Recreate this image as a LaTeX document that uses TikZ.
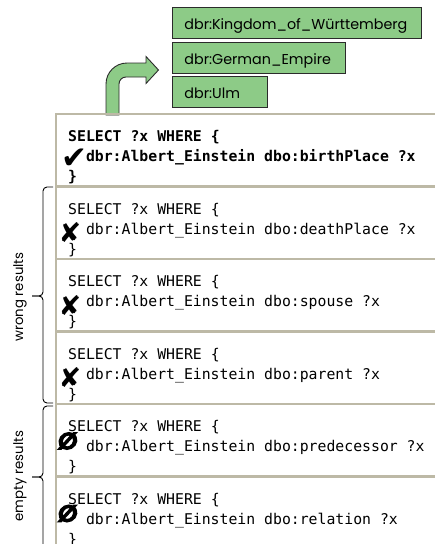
\documentclass[tikz,border=0pt]{standalone}
\usepackage{fontspec}
\setmainfont{Poppins}
\newfontfamily\qmono{DejaVu Sans Mono}
\newfontfamily\qsym{DejaVu Sans}
\newfontfamily\qsymbold[FakeBold=9,FakeSlant=0.12]{DejaVu Sans Bold}
\definecolor{gfill}{HTML}{8DCB87}
\definecolor{frm}{HTML}{BDB9A6}
\definecolor{gline}{HTML}{2B2B2B}
\tikzset{
  gbox/.style={draw=gline, line width=0.9pt, fill=gfill, anchor=north west, inner xsep=12pt, inner ysep=0pt,
    minimum height=31pt, text height=13.8pt, text depth=0pt, align=left,
    font=\fontsize{14.3}{16}\selectfont},
  qtext/.style={anchor=base west, inner sep=0pt, font=\qmono\fontsize{14.8}{18}\selectfont},
  qbold/.style={qtext, font=\qmono\bfseries\fontsize{14.8}{18}\selectfont},
  frameline/.style={draw=frm, line width=2.6pt},
  brc/.style={draw=black, line width=0.9pt, rounded corners=4pt},
  lbl/.style={rotate=90, inner sep=0pt, font=\fontsize{13.3}{15}\selectfont},
  mk/.style={inner sep=0pt, font=\qsym\fontsize{27}{29}\selectfont},
  mkcheck/.style={inner sep=0pt, font=\qsym\fontsize{31}{33}\selectfont},
  mkempty/.style={inner sep=0pt, font=\qsymbold\fontsize{22}{24}\selectfont},
  arr/.style={draw=gline, line width=0.9pt, fill=gfill}
}
\begin{document}
\begin{tikzpicture}[x=1pt,y=-1pt]
\useasboundingbox (0,0) rectangle (435,544);

% result boxes
\node[gbox, minimum width=249pt, text width=225pt] (kw) at (172,7) {dbr:Kingdom\_of\_Württemberg};
\node[gbox, minimum width=173pt, text width=149pt] (ge) at (172,41.5) {dbr:German\_Empire};
\node[gbox, minimum width=95pt, text width=71pt] (ulm) at (172,76) {dbr:Ulm};

% bent arrow
\draw[arr] (106,115) [rounded corners=21pt] -- (106,63) [sharp corners] -- (146,63) -- (146,56.5) -- (158.5,70) -- (146,83.5) -- (146,77)
  [rounded corners=7pt] -- (119,77) [sharp corners] -- (119,115) -- cycle;

% frame and separators
\draw[frameline] (56,546) -- (56,114) -- (437,114);
\foreach \t in {186.5,259,331.5,404,476.5} {\draw[frameline] (56,\t) -- (437,\t);}

% queries
\node[qbold] (q1a) at (68,141.7) {SELECT ?x WHERE \{};
\node[qbold] (q1b) at (85.8,161.7) {dbr:Albert\_Einstein dbo:birthPlace ?x};
\node[qbold] (q1c) at (68,181.7) {\}};

\node[qtext] (q2a) at (68,214.2) {SELECT ?x WHERE \{};
\node[qtext] (q2b) at (85.8,234.2) {dbr:Albert\_Einstein dbo:deathPlace ?x};
\node[qtext] (q2c) at (68,254.2) {\}};

\node[qtext] (q3a) at (68,286.7) {SELECT ?x WHERE \{};
\node[qtext] (q3b) at (85.8,306.7) {dbr:Albert\_Einstein dbo:spouse ?x};
\node[qtext] (q3c) at (68,326.7) {\}};

\node[qtext] (q4a) at (68,359.2) {SELECT ?x WHERE \{};
\node[qtext] (q4b) at (85.8,379.2) {dbr:Albert\_Einstein dbo:parent ?x};
\node[qtext] (q4c) at (68,399.2) {\}};

\node[qtext] (q5a) at (68,431.7) {SELECT ?x WHERE \{};
\node[qtext] (q5b) at (85.8,451.7) {dbr:Albert\_Einstein dbo:predecessor ?x};
\node[qtext] (q5c) at (68,471.7) {\}};

\node[qtext] (q6a) at (68,504.2) {SELECT ?x WHERE \{};
\node[qtext] (q6b) at (85.8,524.2) {dbr:Albert\_Einstein dbo:relation ?x};
\node[qtext] (q6c) at (68,544.2) {\}};

% marks
\node[mkcheck] (m1) at (74,159) {✔};
\node[mk] (m2) at (70,233) {✘};
\node[mk] (m3) at (70,305.5) {✘};
\node[mk] (m4) at (70,378) {✘};
\node[mkempty] (m5) at (67,441) {∅};
\node[mkempty] (m6) at (67,513.5) {∅};

% braces
\draw[brc] (53,187) -- (43,187) -- (43,296) -- (32,296);
\draw[brc] (32,296) -- (43,296) -- (43,403) -- (53,403);
\draw[brc] (53,406) -- (43,406) -- (43,477) -- (32,477);
\draw[brc] (32,477) -- (43,477) -- (43,548) -- (53,548);

\node[lbl] (wl) at (20,297) {wrong results};
\node[lbl] (el) at (20,476) {empty results};
\end{tikzpicture}
\end{document}
